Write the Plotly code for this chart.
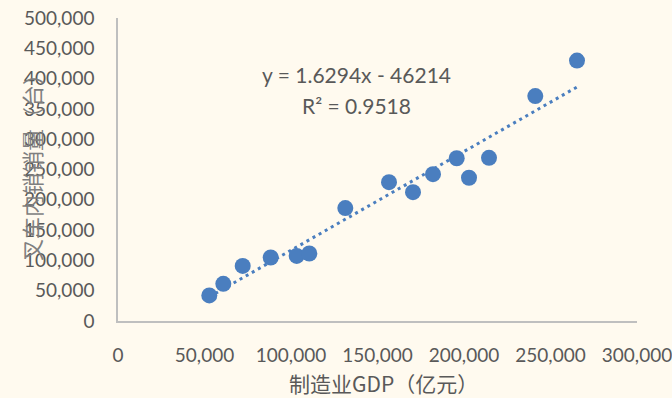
import plotly.graph_objects as go

# Manufacturing GDP (100 million yuan) vs. domestic forklift sales (units)
gdp = [52775, 60867, 72080, 88266, 103295, 110578, 131387, 156647,
       170520, 182080, 195780, 202890, 214450, 241210, 265320]
sales = [42270, 61350, 90950, 104770, 107400, 111350, 186350, 229110,
         212660, 242270, 268590, 236350, 269240, 371220, 429770]

# Linear trend coefficients shown on the chart
slope = 1.6294
intercept = -46214
r_squared = 0.9518

x_ticks = [0, 50000, 100000, 150000, 200000, 250000, 300000]
y_ticks = [0, 50000, 100000, 150000, 200000, 250000, 300000, 350000, 400000, 450000, 500000]

blue = "#4A7EBF"
bg = "#FFFAEF"
text_col = "#595959"
axis_col = "#BFBFBF"
font_family = "Lato, 'Noto Sans CJK SC', sans-serif"
cjk_family = "'Noto Sans CJK SC', sans-serif"

trend_x = [min(gdp), max(gdp)]
trend_y = [slope * v + intercept for v in trend_x]

fig = go.Figure()
fig.add_trace(go.Scatter(
    x=trend_x, y=trend_y, mode="lines",
    line=dict(color=blue, width=3, dash="3px,4px"),
    hoverinfo="skip", showlegend=False,
))
fig.add_trace(go.Scatter(
    x=gdp, y=sales, mode="markers",
    marker=dict(color=blue, size=16, line=dict(width=0)),
    showlegend=False,
))

L, R, T, B = 118, 35, 18, 77
fig.update_layout(
    width=672, height=398,
    margin=dict(l=L, r=R, t=T, b=B, autoexpand=False),
    paper_bgcolor=bg, plot_bgcolor=bg,
    font=dict(family=font_family, size=19, color=text_col),
    showlegend=False,
)
fig.update_xaxes(
    range=[0, 300000], tickvals=x_ticks, tickformat=",",
    showgrid=False, zeroline=False, automargin=False,
    showline=True, linecolor=axis_col, linewidth=1.5,
    ticks="", ticklabelstandoff=16, ticklabeloverflow="allow",
    tickfont=dict(family=font_family, size=19, color=text_col),
)
fig.update_yaxes(
    range=[0, 500000], tickvals=y_ticks, tickformat=",",
    showgrid=False, zeroline=False, automargin=False,
    showline=True, linecolor=axis_col, linewidth=1.5,
    ticks="", ticklabelstandoff=18, ticklabeloverflow="allow",
    tickfont=dict(family=font_family, size=19, color=text_col),
)

plot_w = 672 - L - R
plot_h = 398 - T - B


def px_x(p):
    return (p - L) / plot_w


def px_y(p):
    return (398 - B - p) / plot_h


fig.add_annotation(
    text=f"y = {slope}x - {abs(intercept)}",
    xref="paper", yref="paper", x=px_x(356), y=px_y(75),
    xanchor="center", yanchor="middle", showarrow=False,
    font=dict(family=font_family, size=21, color=text_col),
)
fig.add_annotation(
    text=f"R² = {r_squared}",
    xref="paper", yref="paper", x=px_x(356), y=px_y(105),
    xanchor="center", yanchor="middle", showarrow=False,
    font=dict(family=font_family, size=21, color=text_col),
)
fig.add_annotation(
    text="制造业GDP（亿元）",
    xref="paper", yref="paper", x=px_x(383), y=px_y(383),
    xanchor="center", yanchor="middle", showarrow=False,
    font=dict(family=cjk_family, size=21, color=text_col),
)
fig.add_annotation(
    text="叉车内销销量（台）",
    xref="paper", yref="paper", x=px_x(31), y=px_y(162),
    xanchor="center", yanchor="middle", textangle=-90, showarrow=False,
    font=dict(family=cjk_family, size=22, color="#7F7F7F"),
)

fig.write_html("out.html")
